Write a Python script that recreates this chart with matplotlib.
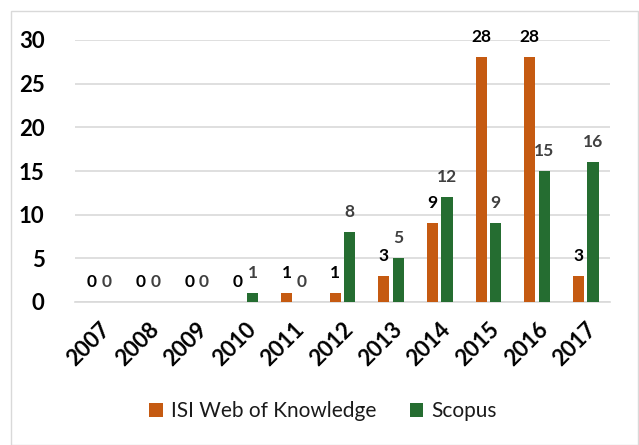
import matplotlib
matplotlib.use("Agg")
import matplotlib.pyplot as plt
import numpy as np
from matplotlib.patches import Rectangle

years = ["2007", "2008", "2009", "2010", "2011", "2012", "2013", "2014", "2015", "2016", "2017"]
isi = [0, 0, 0, 0, 1, 1, 3, 9, 28, 28, 3]
scopus = [0, 0, 0, 1, 0, 8, 5, 12, 9, 15, 16]
yticks = [0, 5, 10, 15, 20, 25, 30]

ORANGE = "#C55A11"
GREEN = "#256D31"
FONT = "Lato"

fig = plt.figure(figsize=(6.39, 4.45), dpi=100)
fig.patches.append(Rectangle((11/639, 0), 627/639, 1 - 11/445, transform=fig.transFigure,
                             fill=False, edgecolor="#D9D9D9", linewidth=1))
ax = fig.add_axes([75/639, 1 - 302/445, 535/639, 262/445])

x = np.arange(len(years))
w = 0.23
off = 0.15
b1 = ax.bar(x - off, isi, w, color=ORANGE, label="ISI Web of Knowledge", zorder=3)
b2 = ax.bar(x + off, scopus, w, color=GREEN, label="Scopus", zorder=3)

for xi, v in zip(x, isi):
    ax.annotate(str(v), (xi - off, v), xytext=(0, 20), textcoords="offset pixels",
                ha="center", va="center", fontsize=12.5, fontweight="bold", color="black",
                family=FONT)
for xi, v in zip(x, scopus):
    ax.annotate(str(v), (xi + off, v), xytext=(0, 20), textcoords="offset pixels",
                ha="center", va="center", fontsize=12.5, fontweight="bold", color="#404040",
                family=FONT)

ax.set_xlim(-0.5, len(years) - 0.5)
ax.set_ylim(0, 30)
ax.set_yticks(yticks)
ax.set_yticklabels([str(t) for t in yticks], fontsize=16, fontweight="bold", family=FONT)
ax.yaxis.grid(True, color="#D9D9D9", linewidth=1.2, zorder=0)
ax.set_axisbelow(True)
ax.tick_params(axis="y", length=0, pad=22)
ax.tick_params(axis="x", length=0, pad=12)
ax.set_xticks(x)
ax.set_xticklabels(years, rotation=45, ha="right", rotation_mode="anchor",
                   fontsize=16, fontweight="bold", family=FONT)
for s in ["top", "right", "left"]:
    ax.spines[s].set_visible(False)
ax.spines["bottom"].set_color("#D9D9D9")
ax.spines["bottom"].set_linewidth(1.2)

leg = fig.legend(handles=[b1, b2], loc="center", bbox_to_anchor=(323/639, 1 - 411/445),
                 ncol=2, frameon=False, prop={"family": FONT, "size": 15},
                 handlelength=0.65, handleheight=0.65, handletextpad=0.4, columnspacing=1.6)
for t in leg.get_texts():
    t.set_color("#1a1a1a")

fig.savefig("out.png", dpi=100)
